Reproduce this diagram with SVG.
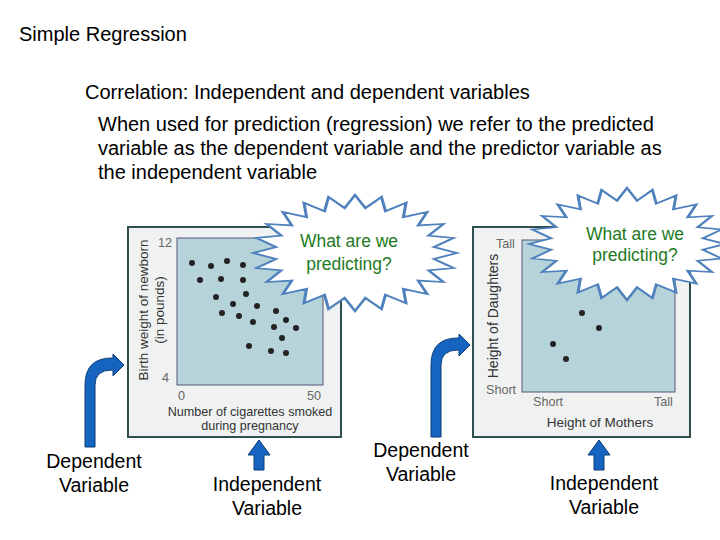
<svg xmlns="http://www.w3.org/2000/svg" width="720" height="540" viewBox="0 0 720 540">
<style>
text{font-family:"Liberation Sans",Arial,sans-serif;fill:#000}
.t{font-size:20px}
.lbl{font-size:19.5px;text-anchor:middle}
.bub{font-size:17.5px;fill:#1e7a1e;text-anchor:middle}
.ax{font-size:12.6px;fill:#333}
.axg{font-size:12.6px;fill:#666}
.frame{fill:#f0f2f2;stroke:#2f4f4f;stroke-width:2}
.plot{fill:#b7d3da;stroke:#557;stroke-width:1}
.dot{fill:#222}
.arr{fill:#1565c0;stroke:#0d3b78;stroke-width:1}
.star{fill:#fff;stroke:#4f81bd;stroke-width:3;vector-effect:non-scaling-stroke}
</style>
<defs>
<polygon id="star" points="100,0 77.3,10.2 96.6,25.9 72.1,29.9 86.6,50 61.9,47.5 70.7,70.7 47.5,61.9 50,86.6 29.9,72.1 25.9,96.6 10.2,77.3 0,100 -10.2,77.3 -25.9,96.6 -29.9,72.1 -50,86.6 -47.5,61.9 -70.7,70.7 -61.9,47.5 -86.6,50 -72.1,29.9 -96.6,25.9 -77.3,10.2 -100,0 -77.3,-10.2 -96.6,-25.9 -72.1,-29.9 -86.6,-50 -61.9,-47.5 -70.7,-70.7 -47.5,-61.9 -50,-86.6 -29.9,-72.1 -25.9,-96.6 -10.2,-77.3 0,-100 10.2,-77.3 25.9,-96.6 29.9,-72.1 50,-86.6 47.5,-61.9 70.7,-70.7 61.9,-47.5 86.6,-50 72.1,-29.9 96.6,-25.9 77.3,-10.2"/>
</defs>
<text class="t" x="19" y="41">Simple Regression</text>
<text class="t" x="85" y="99">Correlation: Independent and dependent variables</text>
<text class="t" x="98" y="131">When used for prediction (regression) we refer to the predicted</text>
<text class="t" x="98" y="155">variable as the dependent variable and the predictor variable as</text>
<text class="t" x="98" y="179">the independent variable</text>

<g id="chart1">
<rect class="frame" x="128" y="227" width="213" height="210"/>
<rect class="plot" x="177" y="238" width="146" height="147"/>
<text class="axg" x="158" y="247">12</text>
<text class="axg" x="162" y="382">4</text>
<text class="axg" x="178" y="400">0</text>
<text class="axg" x="307" y="400">50</text>
<text class="ax" x="250" y="416" text-anchor="middle">Number of cigarettes smoked</text>
<text class="ax" x="250" y="430" text-anchor="middle">during pregnancy</text>
<text class="ax" transform="translate(148,310) rotate(-90)" text-anchor="middle" style="font-size:13.5px">Birth weight of newborn</text>
<text class="ax" transform="translate(164,310) rotate(-90)" text-anchor="middle" style="font-size:13.5px">(in pounds)</text>
<g class="dot">
<circle cx="192" cy="263" r="3"/><circle cx="211" cy="266" r="3"/><circle cx="227" cy="261" r="3"/><circle cx="243" cy="265" r="3"/>
<circle cx="200" cy="280" r="3"/><circle cx="221" cy="279" r="3"/><circle cx="243" cy="280" r="3"/><circle cx="246" cy="294" r="3"/>
<circle cx="216" cy="297" r="3"/><circle cx="233" cy="304" r="3"/><circle cx="257" cy="306" r="3"/><circle cx="276" cy="311" r="3"/>
<circle cx="222" cy="313" r="3"/><circle cx="239" cy="316" r="3"/><circle cx="253" cy="322" r="3"/><circle cx="286" cy="320" r="3"/>
<circle cx="274" cy="327" r="3"/><circle cx="296" cy="328" r="3"/><circle cx="282" cy="338" r="3"/><circle cx="249" cy="346" r="3"/>
<circle cx="271" cy="351" r="3"/><circle cx="286" cy="353" r="3"/>
</g>
</g>

<g id="chart2">
<rect class="frame" x="473" y="227" width="217" height="210"/>
<rect class="plot" x="522" y="240" width="153" height="152"/>
<text class="axg" x="496" y="248">Tall</text>
<text class="axg" x="486" y="394">Short</text>
<text class="axg" x="533" y="406">Short</text>
<text class="axg" x="654" y="406">Tall</text>
<text class="ax" x="600" y="427" text-anchor="middle" style="font-size:13.5px">Height of Mothers</text>
<text class="ax" transform="translate(498,316) rotate(-90)" text-anchor="middle" style="font-size:14px">Height of Daughters</text>
<g class="dot">
<circle cx="582" cy="313" r="3"/><circle cx="599" cy="328" r="3"/><circle cx="553" cy="344" r="3"/><circle cx="566" cy="359" r="3"/>
</g>
</g>

<g id="bubble1">
<use href="#star" class="star" transform="translate(355,253) scale(1.02,0.58)"/>
<text class="bub" x="349" y="247">What are we</text>
<text class="bub" x="349" y="270">predicting?</text>
</g>
<g id="bubble2">
<use href="#star" class="star" transform="translate(627,244) scale(0.98,0.56)"/>
<text class="bub" x="635" y="240">What are we</text>
<text class="bub" x="635" y="261">predicting?</text>
</g>

<g id="connectors">
<path class="arr" d="M85,447 V385 Q85,358 112,358 H113 V354 L124,365 L113,376 V370 H112 Q95,370 95,385 V447 Z"/>
<path class="arr" d="M431,437 V365 Q431,338 458,338 H459 V334 L470,345 L459,356 V350 H458 Q441,350 441,365 V437 Z"/>
<path class="arr" d="M259,440 L270,455 H264 V470 H254 V455 H248 Z"/>
<path class="arr" d="M599,440 L610,455 H604 V470 H594 V455 H588 Z"/>
</g>

<g id="labels">
<text class="lbl" x="94" y="468">Dependent</text>
<text class="lbl" x="94" y="492">Variable</text>
<text class="lbl" x="267" y="491">Independent</text>
<text class="lbl" x="267" y="515">Variable</text>
<text class="lbl" x="421" y="457">Dependent</text>
<text class="lbl" x="421" y="481">Variable</text>
<text class="lbl" x="604" y="490">Independent</text>
<text class="lbl" x="604" y="514">Variable</text>
</g>
</svg>
